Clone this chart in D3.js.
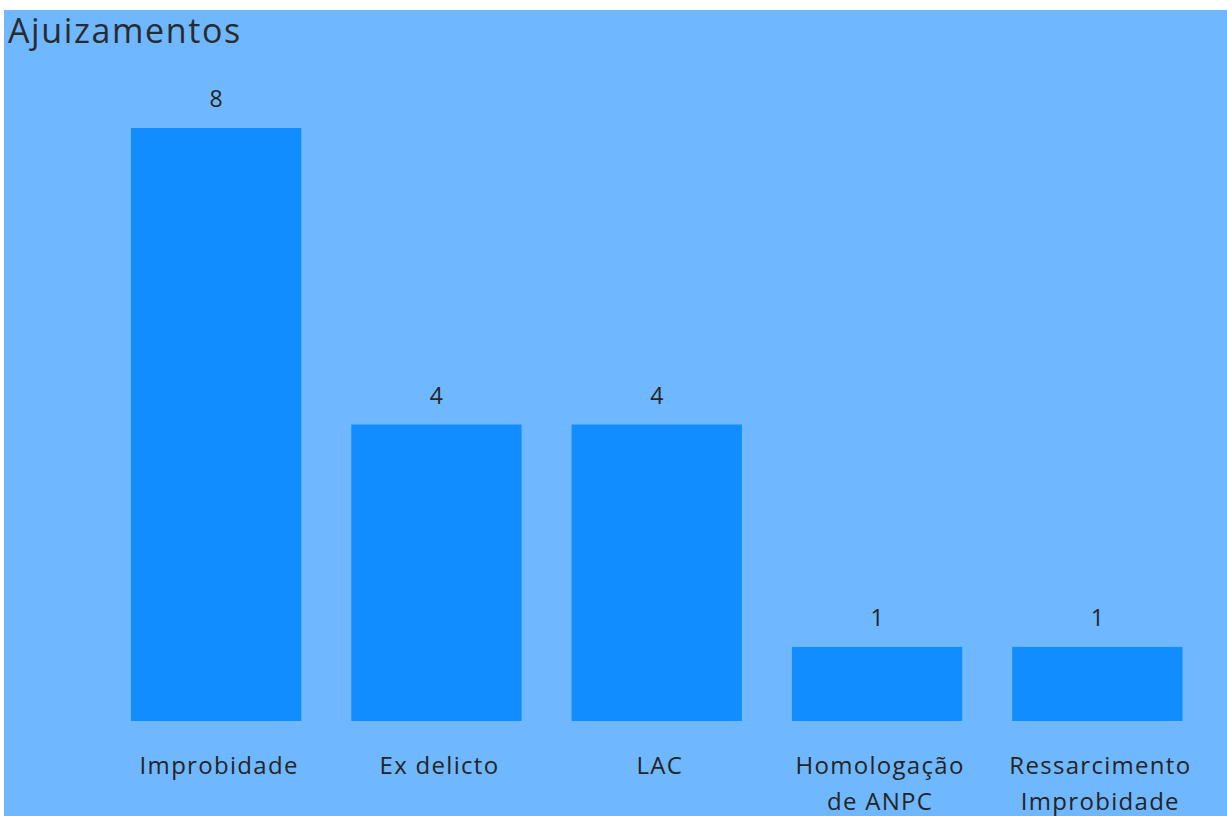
<!DOCTYPE html>
<html>
<head>
<meta charset="utf-8">
<script src="https://cdn.jsdelivr.net/npm/d3@7"></script>
<style>
  html, body { margin: 0; padding: 0; background: #ffffff; }
  svg { display: block; }
  text { font-family: "Open Sans", "Noto Sans", sans-serif; }
</style>
</head>
<body>
<svg id="chart" width="1227" height="816"></svg>
<script>
const title = "Ajuizamentos";
const categories = ["Improbidade", "Ex delicto", "LAC", "Homologação de ANPC", "Ressarcimento Improbidade"];
const categoryLines = [["Improbidade"], ["Ex delicto"], ["LAC"], ["Homologação", "de ANPC"], ["Ressarcimento", "Improbidade"]];
const values = [8, 4, 4, 1, 1];

const W = 1227, H = 816;
const svg = d3.select("#chart");

svg.append("rect")
  .attr("x", 4).attr("y", 10)
  .attr("width", W - 4).attr("height", H - 10)
  .attr("fill", "#6fb8ff");

svg.append("text")
  .attr("x", 8).attr("y", 43)
  .attr("font-size", 34)
  .attr("letter-spacing", 1.6)
  .attr("fill", "#2b2b2b")
  .text(title);

const x = d3.scaleBand()
  .domain(categories)
  .range([106, 1207.5])
  .paddingInner(0.227)
  .paddingOuter(0.1135);

const y = d3.scaleLinear()
  .domain([0, 8])
  .range([721, 128]);

svg.append("g").selectAll("rect")
  .data(categories)
  .join("rect")
  .attr("x", d => x(d))
  .attr("y", (d, i) => y(values[i]))
  .attr("width", x.bandwidth())
  .attr("height", (d, i) => y(0) - y(values[i]))
  .attr("fill", "#118dff");

svg.append("g").selectAll("text")
  .data(categories)
  .join("text")
  .attr("x", d => x(d) + x.bandwidth() / 2)
  .attr("y", (d, i) => y(values[i]) - 21)
  .attr("text-anchor", "middle")
  .attr("font-size", 23)
  .attr("fill", "#252423")
  .text((d, i) => values[i]);

const xAxis = d3.axisBottom(x).tickSize(0).tickPadding(0);
const gx = svg.append("g").attr("transform", `translate(0, ${y(0)})`).call(xAxis);
gx.select(".domain").remove();
gx.selectAll(".tick text")
  .attr("font-size", 24)
  .attr("letter-spacing", 1.3)
  .attr("font-family", "'Open Sans', 'Noto Sans', sans-serif")
  .attr("fill", "#252423")
  .attr("dy", null)
  .attr("y", 0)
  .text(null)
  .each(function(d, i) {
    const t = d3.select(this);
    categoryLines[i].forEach((line, j) => {
      t.append("tspan")
        .attr("x", 3)
        .attr("y", 53 + j * 36)
        .text(line);
    });
  });
</script>
</body>
</html>
